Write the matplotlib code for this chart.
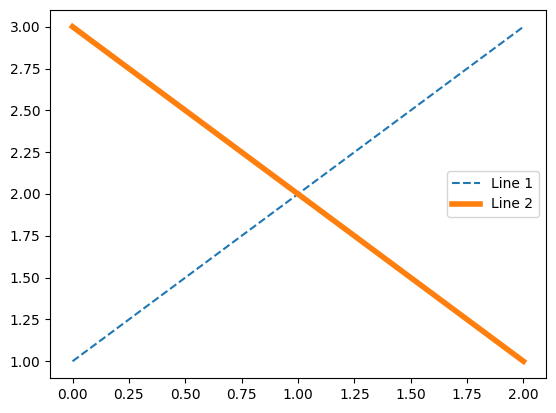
import matplotlib
matplotlib.use("Agg")
import matplotlib.pyplot as plt

x = [0, 1, 2]
line1 = [1, 2, 3]
line2 = [3, 2, 1]

fig = plt.figure(figsize=(5.56, 4.13), dpi=100)
ax = fig.add_axes([50/556, 35/413, 496/556, 368/413])
ax.plot(x, line1, label="Line 1", linestyle="--")
ax.plot(x, line2, label="Line 2", linewidth=4)
ax.legend(loc="center right")
fig.savefig("out.png", dpi=100)
